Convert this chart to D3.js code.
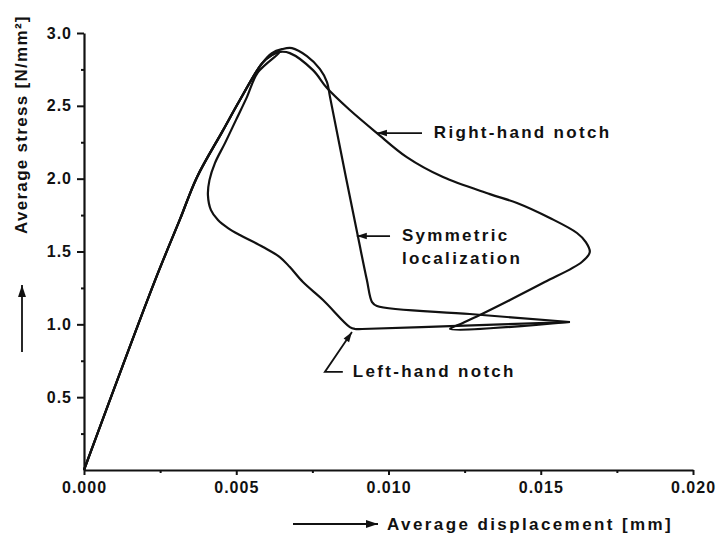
<!DOCTYPE html>
<html>
<head>
<meta charset="utf-8">
<script src="https://cdn.jsdelivr.net/npm/d3@7"></script>
<style>
  body { margin: 0; background: #fff; }
  text { font-family: "Liberation Sans", Arial, sans-serif; font-weight: bold; fill: #111; }
</style>
<title>stress displacement</title>
</head>
<body>
<div id="chart"></div>
<script>
// ---- data: [displacement mm, stress N/mm2]
var rightHand = [[0,0],[0.00233,1.30],[0.00315,1.72],[0.00371,2.01],[0.00456,2.33],[0.00512,2.54],[0.00584,2.79],
  [0.00617,2.848],[0.00643,2.87],[0.00676,2.862],[0.00752,2.745],[0.00798,2.622],[0.00873,2.471],[0.00962,2.313],
  [0.01060,2.148],[0.01179,2.011],[0.01333,1.894],[0.01422,1.833],[0.01530,1.730],[0.01619,1.627],[0.01648,1.565],
  [0.01661,1.496],[0.01635,1.428],[0.01513,1.290],[0.01399,1.167],[0.01300,1.064],[0.01244,1.009],[0.01202,0.968],
  [0.01596,1.016]]

var symmetric = [[0,0],[0.00233,1.30],[0.00315,1.72],[0.00371,2.01],[0.00456,2.33],[0.00512,2.54],[0.00584,2.79],
  [0.00617,2.862],[0.0065,2.889],[0.00683,2.896],[0.00732,2.841],[0.00775,2.752],[0.00798,2.663],[0.00808,2.56],
  [0.0086,2.011],[0.009,1.599],[0.00929,1.304],[0.00946,1.153],[0.00962,1.126],[0.01267,1.071],[0.01596,1.016]]

var leftHand = [[0,0],[0.00233,1.30],[0.00315,1.72],[0.00371,2.01],[0.00456,2.33],[0.00512,2.54],[0.00584,2.79],
  [0.00617,2.848],[0.00643,2.869],[0.00571,2.73],[0.00535,2.56],[0.00499,2.402],[0.00463,2.244],[0.0043,2.107],
  [0.00412,1.99],[0.00407,1.887],[0.00417,1.784],[0.0044,1.716],[0.00473,1.661],[0.00512,1.613],[0.00588,1.531],
  [0.00643,1.462],[0.00676,1.393],[0.00719,1.29],[0.00785,1.167],[0.00873,0.981],[0.0089,0.968],[0.00913,0.968],
  [0.01202,0.988],[0.01596,1.016]]

var xTicks = [0, 0.005, 0.010, 0.015, 0.020]
var xMinor = [0.0025, 0.0075, 0.0125, 0.0175]
var yTicks = [0.5, 1.0, 1.5, 2.0, 2.5, 3.0]
var yMinor = [0.25, 0.75, 1.25, 1.75, 2.25, 2.75]

// annotations: label lines, arrow tail and tip in data units
var notes = [
  {lines: ["Right-hand notch"], tx: 0.01149, ty: 2.313, path: [[0.01110,2.313],[0.00962,2.313]]},
  {lines: ["Symmetric", "localization"], tx: 0.01044, ty: 1.606, path: [[0.01005,1.606],[0.00896,1.606]]},
  {lines: ["Left-hand notch"], tx: 0.00883, ty: 0.673, path: [[0.00850,0.673],[0.00791,0.673],[0.0088,0.947]]}
]

var W = 719, H = 539
var svg = d3.select("#chart").append("svg").attr("width", W).attr("height", H)

var x = d3.scaleLinear().domain([0, 0.020]).range([84, 693])
var y = d3.scaleLinear().domain([0, 3.0]).range([470, 33])

// axes, major + minor ticks
svg.append("g").attr("transform", "translate(0,470)")
  .call(d3.axisBottom(x).tickValues(xTicks).tickSize(5).tickSizeOuter(0).tickPadding(7).tickFormat(d3.format(".3f")))
svg.append("g").attr("transform", "translate(0,470)")
  .call(d3.axisBottom(x).tickValues(xMinor).tickSize(3).tickSizeOuter(0).tickFormat(""))
  .select(".domain").remove()

svg.append("g").attr("transform", "translate(84,0)")
  .call(d3.axisLeft(y).tickValues(yTicks).tickSize(7).tickSizeOuter(0).tickPadding(5).tickFormat(d3.format(".1f")))
svg.append("g").attr("transform", "translate(84,0)")
  .call(d3.axisLeft(y).tickValues(yMinor).tickSize(3).tickSizeOuter(0).tickFormat(""))
  .select(".domain").remove()

svg.selectAll(".domain").attr("stroke", "#111").attr("stroke-width", 2.2)
svg.selectAll(".tick line").attr("stroke", "#111").attr("stroke-width", 2)
svg.selectAll(".tick text").style("font-size", "16px").style("letter-spacing", "1px").attr("fill", "#111")

// curves
var line = d3.line().x(function(d){ return x(d[0]) }).y(function(d){ return y(d[1]) })
  .curve(d3.curveCatmullRom.alpha(0.5))

;[rightHand, symmetric, leftHand].forEach(function(s){
  svg.append("path").datum(s).attr("d", line)
    .attr("fill", "none").attr("stroke", "#111").attr("stroke-width", 2.2)
    .attr("stroke-linejoin", "round")
})

// arrow helper (pixel coords)
function arrow(pts, size) {
  svg.append("path").attr("d", d3.line()(pts)).attr("fill", "none")
    .attr("stroke", "#111").attr("stroke-width", 1.8)
  var a = pts[pts.length-2], b = pts[pts.length-1]
  var ang = Math.atan2(b[1]-a[1], b[0]-a[0])
  var L = size, w = size*0.33
  var p1 = [b[0] - L*Math.cos(ang) + w*Math.sin(ang), b[1] - L*Math.sin(ang) - w*Math.cos(ang)]
  var p2 = [b[0] - L*Math.cos(ang) - w*Math.sin(ang), b[1] - L*Math.sin(ang) + w*Math.cos(ang)]
  svg.append("path").attr("d", "M" + b + "L" + p1 + "L" + p2 + "Z").attr("fill", "#111")
}

notes.forEach(function(n){
  arrow(n.path.map(function(p){ return [x(p[0]), y(p[1])] }), 10)
  n.lines.forEach(function(t, i){
    svg.append("text").attr("x", x(n.tx)).attr("y", y(n.ty) + 5 + i*23)
      .style("font-size", "17px").style("letter-spacing", "2.3px").text(t)
  })
})

// axis titles
svg.append("text").attr("x", 387).attr("y", 530)
  .style("font-size", "17px").style("letter-spacing", "2.4px")
  .text("Average displacement [mm]")
arrow([[293,524],[378,524]], 12)

svg.append("text").attr("transform", "translate(27,234) rotate(-90)")
  .style("font-size", "17px").style("letter-spacing", "1.3px")
  .text("Average stress [N/mm²]")
arrow([[22,352],[22,285]], 12)
</script>
</body>
</html>
